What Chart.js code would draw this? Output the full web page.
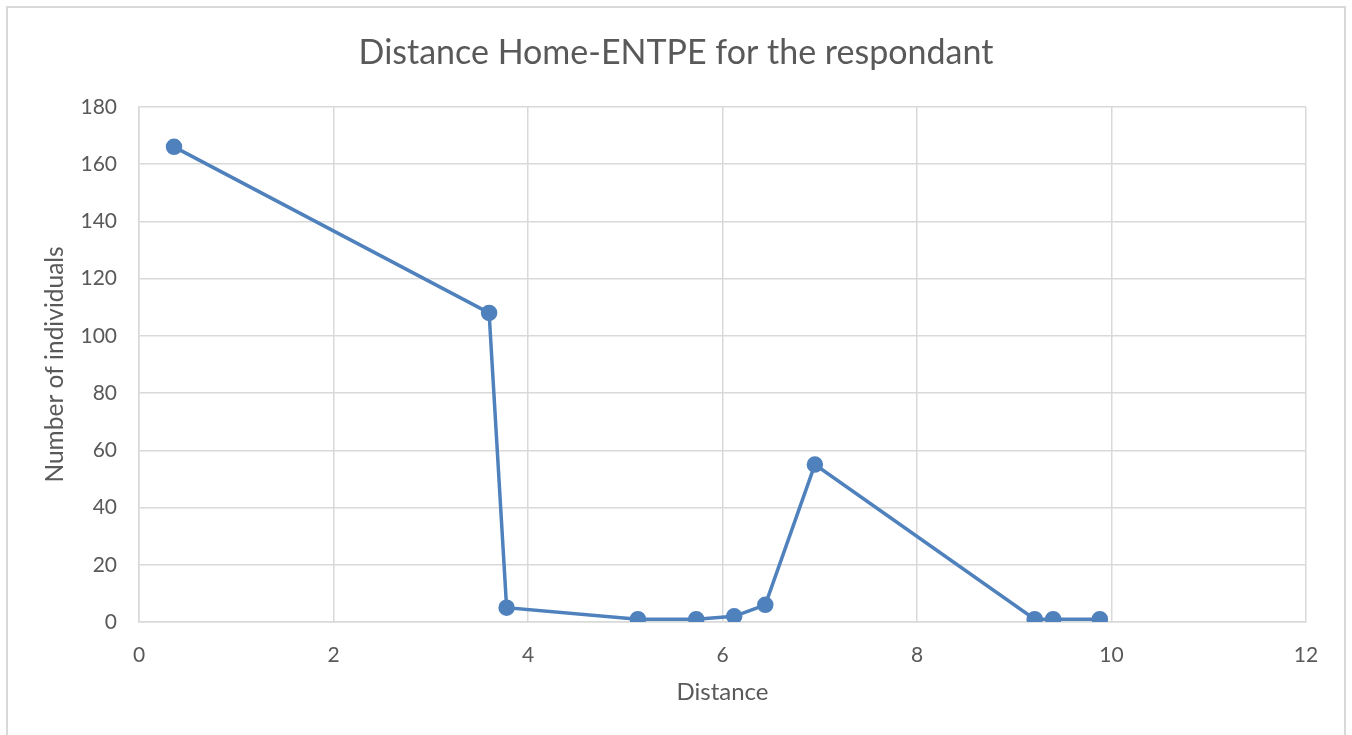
<!DOCTYPE html>
<html>
<head>
<meta charset="utf-8">
<title>Distance Home-ENTPE</title>
<script src="https://cdn.jsdelivr.net/npm/chart.js@4.4.0/dist/chart.umd.min.js"></script>
<style>
  html, body { margin: 0; padding: 0; background: #fff; overflow: hidden; }
  #wrap { position: relative; width: 1352px; height: 735px; }
  #frame {
    position: absolute; left: 6px; top: 6px; width: 1340px; height: 760px;
    border: 2px solid #d9d9d9; box-sizing: border-box;
  }
  canvas { position: absolute; left: 0; top: 0; }
</style>
</head>
<body>
<div id="wrap">
  <div id="frame"></div>
  <canvas id="distanceChart" width="1352" height="735"></canvas>
</div>
<script>
// values
const distance = [0.36, 3.60, 3.78, 5.13, 5.73, 6.12, 6.44, 6.95, 9.21, 9.40, 9.88];
const individuals = [166, 108, 5, 1, 1, 2, 6, 55, 1, 1, 1];

const chartTitle = "Distance Home-ENTPE for the respondant";
const xTitle = "Distance";
const yTitle = "Number of individuals";

const textColor = "#595959";
const gridColor = "#d9d9d9";
const lineColor = "#4f81bd";
const fontFamily = "Lato, 'Open Sans', sans-serif";

const points = distance.map((d, i) => ({ x: d, y: individuals[i] }));

// center the title on the whole canvas, not only on the padded area
const centerTitle = {
    id: "centerTitle",
    afterLayout(chart) {
        const block = chart.titleBlock;
        if (block) {
            block.left = 0;
            block.right = chart.width;
            block.width = chart.width;
        }
    }
};

const ctx = document.getElementById("distanceChart").getContext("2d");

const config = {
    type: "scatter",
    data: {
        datasets: [{
            label: yTitle,
            data: points,
            showLine: true,
            borderColor: lineColor,
            backgroundColor: lineColor,
            borderWidth: 3.5,
            pointRadius: 6.5,
            pointHoverRadius: 6.5,
            tension: 0
        }]
    },
    options: {
        responsive: false,
        animation: false,
        layout: { padding: { left: 0, right: 46, top: 0, bottom: 0 } },
        plugins: {
            legend: { display: false },
            tooltip: { enabled: false },
            title: {
                display: true,
                text: chartTitle,
                color: textColor,
                font: { family: fontFamily, size: 34, weight: "normal" },
                padding: { top: 33, bottom: 33 }
            }
        },
        scales: {
            x: {
                type: "linear",
                min: 0,
                max: 12,
                ticks: {
                    stepSize: 2,
                    color: textColor,
                    font: { family: fontFamily, size: 21 },
                    padding: 21
                },
                grid: { color: gridColor, lineWidth: 1.5, drawTicks: false },
                border: { color: gridColor, width: 1.5 },
                title: {
                    display: true,
                    text: xTitle,
                    color: textColor,
                    font: { family: fontFamily, size: 24 },
                    padding: { top: 0, bottom: 28 }
                },
                afterFit: (scale) => { scale.height = 113; }
            },
            y: {
                min: 0,
                max: 180,
                ticks: {
                    stepSize: 20,
                    color: textColor,
                    font: { family: fontFamily, size: 21 },
                    padding: 22
                },
                grid: { color: gridColor, lineWidth: 1.5, drawTicks: false },
                border: { color: gridColor, width: 1.5 },
                title: {
                    display: true,
                    text: yTitle,
                    color: textColor,
                    font: { family: fontFamily, size: 24.5 },
                    padding: { top: 40, bottom: 0 }
                },
                afterFit: (scale) => { scale.width = 139; }
            }
        }
    },
    plugins: [centerTitle]
};

const distanceChart = new Chart(ctx, config);
</script>
</body>
</html>
